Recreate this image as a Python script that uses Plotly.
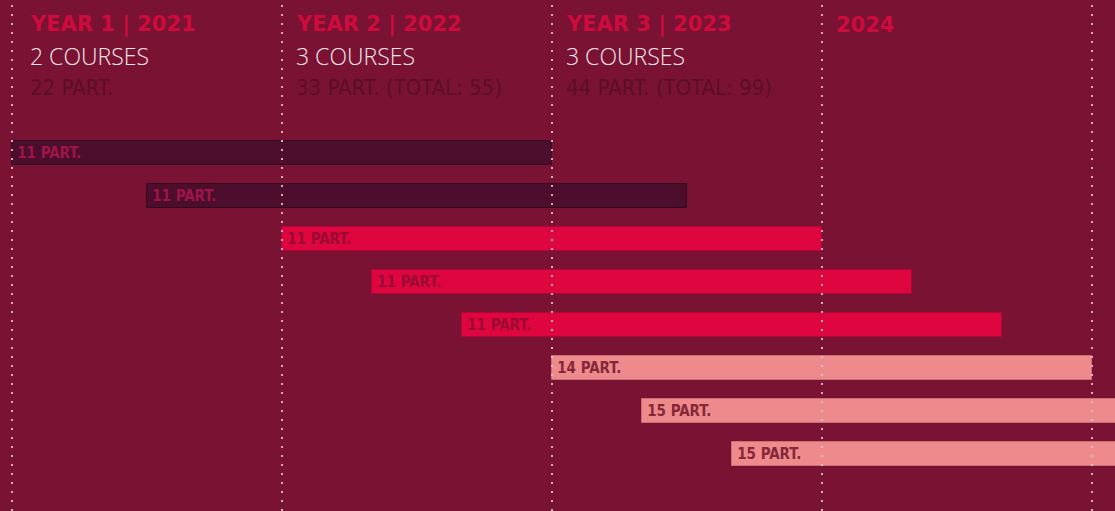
import plotly.graph_objects as go

# ---- data ----
course_labels = ["11 PART.", "11 PART.", "11 PART.", "11 PART.", "11 PART.",
                 "14 PART.", "15 PART.", "15 PART."]
start_month = [0, 6, 12, 16, 20, 24, 28, 32]
duration_months = [24, 24, 24, 24, 24, 24, 24, 24]
course_group = [1, 1, 2, 2, 2, 3, 3, 3]

year_titles = ["YEAR 1 | 2021", "YEAR 2 | 2022", "YEAR 3 | 2023", "2024"]
year_courses = ["2 COURSES", "3 COURSES", "3 COURSES", ""]
year_participants = ["22 PART.", "33 PART. (TOTAL: 55)", "44 PART. (TOTAL: 99)", ""]
year_start_month = [0, 12, 24, 36]
grid_months = [0, 12, 24, 36, 48]

# ---- styles ----
BG = "#7A1333"
fill_by_group = {1: "#4C0E2C", 2: "#DF0640", 3: "#EE8A8C"}
edge_by_group = {1: "#33081C", 2: "#B0053A", 3: "#C8707A"}
text_by_group = {1: "#9E1548", 2: "#9A0A32", 3: "#862838"}
NARROW = "DejaVu Sans Condensed, Liberation Sans Narrow, sans-serif"

W, H = 1115, 511
px_per_month = 22.5
x0_px = 12
x_range = [-x0_px / px_per_month, (W - x0_px) / px_per_month]
row_px = 43
first_row_px = 153
y_range = [(H - first_row_px) / row_px, -first_row_px / row_px]

fig = go.Figure()
rows = list(range(len(course_labels)))
fig.add_trace(go.Bar(
    orientation="h",
    y=rows,
    x=duration_months,
    base=start_month,
    width=0.56,
    marker=dict(color=[fill_by_group[g] for g in course_group],
                line=dict(color=[edge_by_group[g] for g in course_group], width=1)),
    text=["\u2009" + t for t in course_labels],
    textposition="inside",
    insidetextanchor="start",
    textangle=0,
    constraintext="none",
    textfont=dict(family=NARROW, size=15, weight="bold",
                  color=[text_by_group[g] for g in course_group]),
    hoverinfo="skip",
    showlegend=False,
))

for m in grid_months:
    fig.add_shape(type="line", xref="x", yref="paper", x0=m, x1=m, y0=0, y1=1,
                  line=dict(color="rgba(225,205,215,0.85)", width=2, dash="2px,7px"),
                  layer="above")

for i, m in enumerate(year_start_month):
    xs = 16 if i == 0 else 12
    fig.add_annotation(x=m, y=1 - 25 / H, xref="x", yref="paper", xanchor="left",
                       yanchor="middle", xshift=xs, showarrow=False,
                       text=year_titles[i],
                       font=dict(family="DejaVu Sans", size=21, weight="bold", color="#CF0A3E"))
    if year_courses[i]:
        fig.add_annotation(x=m, y=1 - 56 / H, xref="x", yref="paper", xanchor="left",
                           yanchor="middle", xshift=xs, showarrow=False,
                           text=year_courses[i],
                           font=dict(family="Open Sans", size=23, weight=300, color="#F2E6EA"))
    if year_participants[i]:
        fig.add_annotation(x=m, y=1 - 87 / H, xref="x", yref="paper", xanchor="left",
                           yanchor="middle", xshift=xs, showarrow=False,
                           text=year_participants[i],
                           font=dict(family=NARROW, size=22, color="#5C0E28"))

fig.update_layout(
    width=W, height=H,
    margin=dict(l=0, r=0, t=0, b=0),
    paper_bgcolor=BG, plot_bgcolor=BG,
    xaxis=dict(range=x_range, visible=False, showgrid=False, zeroline=False),
    yaxis=dict(range=y_range, visible=False, showgrid=False, zeroline=False),
    bargap=0,
    uniformtext=dict(mode=False),
)

fig.write_html("out.html")
